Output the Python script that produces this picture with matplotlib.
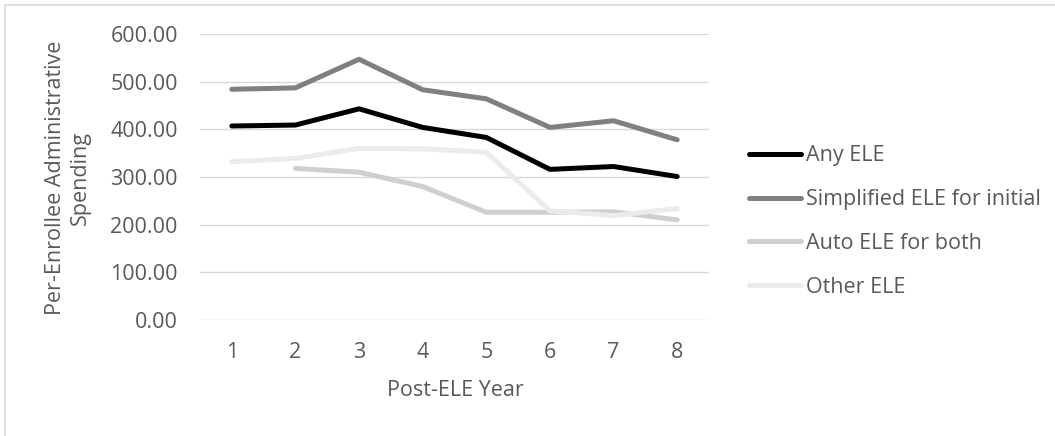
import numpy as np
import matplotlib
matplotlib.use("Agg")
import matplotlib.pyplot as plt
from matplotlib.patches import Rectangle

plt.rcParams['font.family'] = ['Open Sans', 'DejaVu Sans']

years = [1, 2, 3, 4, 5, 6, 7, 8]
any_ele = [407, 409, 443, 404, 383, 316, 322, 301]
simplified_initial = [484, 487, 547, 483, 464, 404, 418, 378]
auto_both = [np.nan, 318, 310, 280, 226, 226, 227, 210]
other_ele = [332, 339, 360, 359, 352, 229, 219, 234]

series = [
    ("Any ELE", any_ele, "#000000"),
    ("Simplified ELE for initial", simplified_initial, "#808080"),
    ("Auto ELE for both", auto_both, "#cfcfcf"),
    ("Other ELE", other_ele, "#ebebeb"),
]

W, H = 1055, 436
fig = plt.figure(figsize=(W / 100, H / 100), dpi=100)
ax = fig.add_axes([200 / W, 1 - 320 / H, 509 / W, 286 / H])

txt = "#595959"
fs = 15.5

for name, vals, col in series:
    ax.plot(years, vals, color=col, lw=3.6, label=name,
            solid_capstyle="round", solid_joinstyle="round")

ax.set_xlim(0.5, 8.5)
ax.set_ylim(0, 600)
ax.set_yticks(np.arange(0, 601, 100))
ax.set_yticklabels([f"{v:.2f}" for v in np.arange(0, 601, 100)])
ax.set_xticks(years)
ax.grid(axis="y", color="#d9d9d9", lw=1.0)
ax.set_axisbelow(True)
for s in ax.spines.values():
    s.set_visible(False)
ax.tick_params(length=0, labelsize=fs, labelcolor=txt)
ax.tick_params(axis="y", pad=16)
ax.tick_params(axis="x", pad=16)

fig.text(455 / W, 1 - 390 / H, "Post-ELE Year", ha="center", va="center",
         fontsize=fs, color=txt)
fig.text(68 / W, 1 - 178 / H, "Per-Enrollee Administrative\nSpending",
         ha="center", va="center", rotation=90, fontsize=fs, color=txt,
         linespacing=1.25)

leg = fig.legend(loc="center left", bbox_to_anchor=(749 / W, 1 - 221.5 / H),
                 frameon=False, fontsize=fs, handlelength=2.4,
                 handletextpad=0.25, labelspacing=1.06, borderpad=0,
                 borderaxespad=0)
for t in leg.get_texts():
    t.set_color(txt)

# light chart frame
fig.patches.append(Rectangle((5 / W, -0.01), 1.1, 1 - 5 / H + 0.01,
                             transform=fig.transFigure, fill=False,
                             edgecolor="#d9d9d9", lw=1.2))

fig.savefig("out.png", dpi=100)
